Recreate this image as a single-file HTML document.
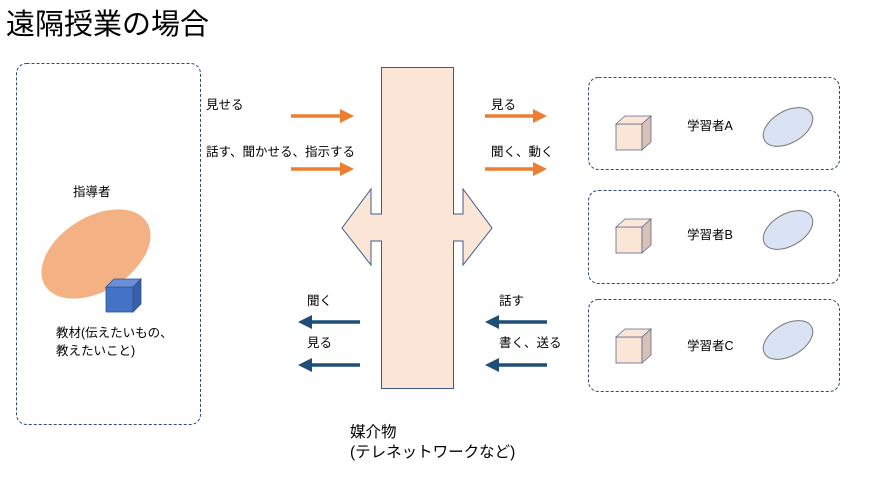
<!DOCTYPE html>
<html><head><meta charset="utf-8"><style>
body{margin:0;width:869px;height:486px;background:#fff;overflow:hidden}
svg text{font-family:"Liberation Sans","Noto Sans CJK JP",sans-serif;fill:#000}
</style></head><body>
<svg width="869" height="486" xmlns="http://www.w3.org/2000/svg">
<defs>
<marker id="ao" markerWidth="4" markerHeight="4" refX="2" refY="2" orient="auto" markerUnits="strokeWidth"><path d="M0,0 L4,2 L0,4 z" fill="#ED7D31"/></marker>
<marker id="ab" markerWidth="4" markerHeight="4" refX="2" refY="2" orient="auto" markerUnits="strokeWidth"><path d="M0,0 L4,2 L0,4 z" fill="#1F4E79"/></marker>
</defs>
<text x="6" y="34" font-size="29">遠隔授業の場合</text>
<g fill="none" stroke="#2F4A7A" stroke-width="1" stroke-dasharray="3,2">
<rect x="16.5" y="63.5" width="184" height="361" rx="10"/>
<rect x="588.5" y="77.5" width="251" height="92" rx="10"/>
<rect x="588.5" y="190.5" width="251" height="93" rx="10"/>
<rect x="588.5" y="299.5" width="251" height="92" rx="10"/>
</g>
<text x="73" y="196" font-size="12.5">指導者</text>
<ellipse cx="96" cy="254" rx="60" ry="37" transform="rotate(-32 96 254)" fill="#F4B183"/>
<g stroke="#2F528F" stroke-width="0.8">
<rect x="106" y="287" width="27" height="25" fill="#4472C4"/>
<path d="M106,287 L114,279 L141,279 L133,287 z" fill="#6A8FD6"/>
<path d="M133,287 L141,279 L141,304 L133,312 z" fill="#3A5FA8"/>
</g>
<text x="56" y="337" font-size="12.5">教材(伝えたいもの、</text>
<text x="56" y="355" font-size="12.5">教えたいこと)</text>
<text x="206" y="109" font-size="12.5">見せる</text>
<text x="206" y="156" font-size="12.5">話す、聞かせる、指示する</text>
<g stroke-width="3.5">
<line x1="291" y1="116" x2="347" y2="116" stroke="#ED7D31" marker-end="url(#ao)"/>
<line x1="291" y1="169" x2="347" y2="169" stroke="#ED7D31" marker-end="url(#ao)"/>
<line x1="485" y1="116" x2="540" y2="116" stroke="#ED7D31" marker-end="url(#ao)"/>
<line x1="485" y1="169" x2="540" y2="169" stroke="#ED7D31" marker-end="url(#ao)"/>
<line x1="360" y1="322" x2="305" y2="322" stroke="#1F4E79" marker-end="url(#ab)"/>
<line x1="360" y1="365" x2="305" y2="365" stroke="#1F4E79" marker-end="url(#ab)"/>
<line x1="547" y1="322" x2="492" y2="322" stroke="#1F4E79" marker-end="url(#ab)"/>
<line x1="547" y1="365" x2="492" y2="365" stroke="#1F4E79" marker-end="url(#ab)"/>
</g>
<text x="307" y="305" font-size="12.5">聞く</text>
<text x="307" y="347" font-size="12.5">見る</text>
<text x="491" y="109" font-size="12.5">見る</text>
<text x="491" y="156" font-size="12.5">聞く、動く</text>
<text x="499" y="305" font-size="12.5">話す</text>
<text x="499" y="347" font-size="12.5">書く、送る</text>
<path d="M381.5,67.5 L453.5,67.5 L453.5,214 L463,214 L463,189 L492,228 L463,265 L463,241 L453.5,241 L453.5,388.5 L381.5,388.5 L381.5,241 L371,241 L371,265 L342,228 L371,189 L371,214 L381.5,214 z" fill="#FBE5D6" stroke="#3F5A8A" stroke-width="1"/>
<text x="350" y="437" font-size="15.5">媒介物</text>
<text x="350" y="457" font-size="15.5">(テレネットワークなど)</text>
<g id="L">
<g stroke="#5A6A8E" stroke-width="0.8">
<rect x="616" y="124" width="26" height="26" fill="#FBE5D6"/>
<path d="M616,124 L625,116 L651,116 L642,124 z" fill="#FBE5D6"/>
<path d="M642,124 L651,116 L651,142 L642,150 z" fill="#D9C2B5"/>
</g>
<ellipse cx="788" cy="127" rx="27" ry="16" transform="rotate(-30 788 127)" fill="#DAE3F3" stroke="#777" stroke-width="1"/>
</g>
<use href="#L" y="103"/>
<use href="#L" y="213"/>
<text x="687" y="130" font-size="12.5">学習者A</text>
<text x="687" y="239" font-size="12.5">学習者B</text>
<text x="687" y="350" font-size="12.5">学習者C</text>
</svg>
</body></html>
